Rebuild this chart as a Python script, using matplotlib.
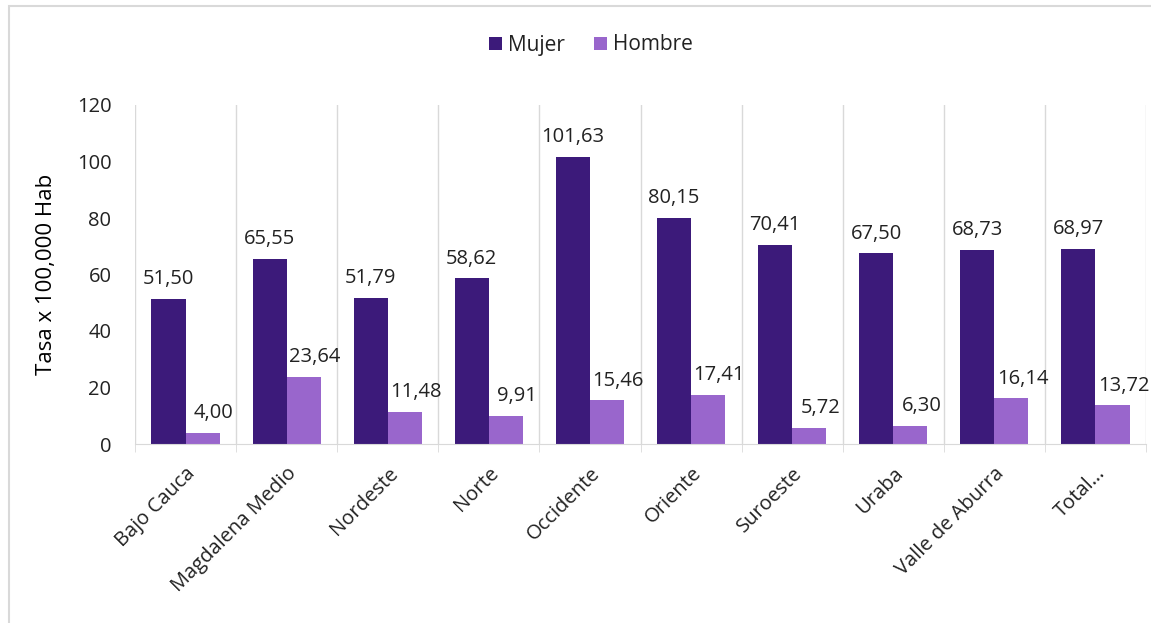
import numpy as np
import matplotlib.pyplot as plt
from matplotlib.patches import Rectangle

regiones = ['Bajo Cauca', 'Magdalena Medio', 'Nordeste', 'Norte', 'Occidente',
            'Oriente', 'Suroeste', 'Uraba', 'Valle de Aburra', 'Total…']
mujer = [51.50, 65.55, 51.79, 58.62, 101.63, 80.15, 70.41, 67.50, 68.73, 68.97]
hombre = [4.00, 23.64, 11.48, 9.91, 15.46, 17.41, 5.72, 6.30, 16.14, 13.72]

c_mujer = '#3c1a7a'
c_hombre = '#9966cc'
txt = '#222222'
plt.rcParams['font.family'] = ['Open Sans', 'DejaVu Sans']

W, H = 1151, 623
fig = plt.figure(figsize=(W / 100, H / 100), dpi=100)
# chart border (right and bottom run off the image)
fig.patches.append(Rectangle((9 / W, -0.1), 1.2, 1.1 - 6 / H,
                             transform=fig.transFigure, fill=False,
                             edgecolor='#d9d9d9', linewidth=1.5))

ax = fig.add_axes([135 / W, 1 - 444 / H, (1146 - 135) / W, (444 - 105) / H])
x = np.arange(len(regiones))
w = 0.337
b1 = ax.bar(x - w / 2, mujer, w, color=c_mujer, label='Mujer')
b2 = ax.bar(x + w / 2, hombre, w, color=c_hombre, label='Hombre')

# hombre labels sit a little to the right, as in the original
for bars, vals, dx in ((b1, mujer, 0), (b2, hombre, 8)):
    for r, v in zip(bars, vals):
        ax.annotate(f'{v:.2f}'.replace('.', ','),
                    (r.get_x() + r.get_width() / 2, v), xytext=(dx, 7),
                    textcoords='offset points', ha='center', va='bottom',
                    fontsize=14.5, color=txt, clip_on=False)

ax.set_xlim(-0.5, len(regiones) - 0.5)
ax.set_ylim(0, 120)
ax.set_yticks(range(0, 121, 20))
ax.set_xticks(x)
ax.set_xticklabels(regiones, rotation=45, ha='right', rotation_mode='anchor')
ax.set_xticks(np.arange(-0.5, len(regiones), 1), minor=True)
ax.tick_params(axis='x', which='major', length=0, pad=14, labelsize=14.5, labelcolor=txt)
ax.tick_params(axis='x', which='minor', length=6, color='#d9d9d9')
ax.tick_params(axis='y', length=0, pad=17, labelsize=14.5, labelcolor=txt)
ax.grid(axis='x', which='minor', color='#d9d9d9', linewidth=1)
ax.set_axisbelow(True)
for s in ('top', 'right', 'left'):
    ax.spines[s].set_visible(False)
ax.spines['bottom'].set_color('#d9d9d9')
ax.set_ylabel('Tasa x 100,000 Hab', fontsize=16, color='black', labelpad=14)

fig.legend(handles=[b1, b2], loc='center', bbox_to_anchor=(591 / W, 1 - 45 / H),
           ncol=2, frameon=False, fontsize=15, handlelength=0.6, handleheight=0.6,
           handletextpad=0.3, columnspacing=1.4, labelcolor=txt)

fig.savefig('out.png', dpi=100)
